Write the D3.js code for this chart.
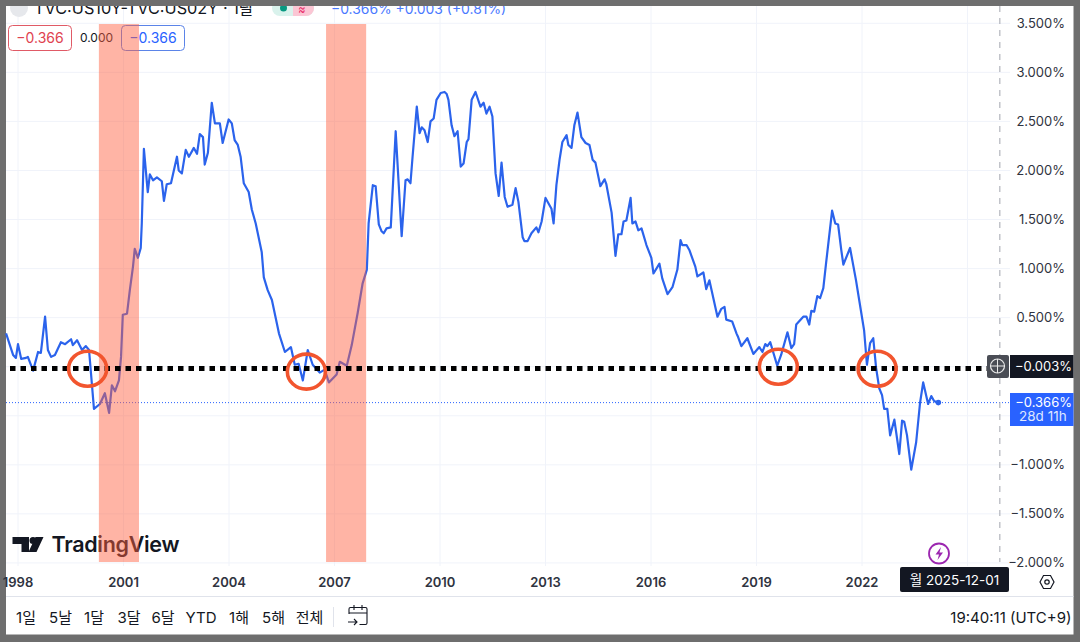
<!DOCTYPE html>
<html>
<head>
<meta charset="utf-8">
<script src="https://cdnjs.cloudflare.com/ajax/libs/d3/7.8.5/d3.min.js"></script>
<style>
  html, body { margin: 0; padding: 0; background: #6e6e6e; }
  svg { display: block; }
  text { font-family: Inter, "Noto Sans CJK KR", sans-serif; }
</style>
</head>
<body>
<div id="chart"></div>
<script>
// spread: fractional year, percent
const years = [1997.66,1997.86,1997.94,1998.00,1998.09,1998.23,1998.28,1998.43,1998.57,1998.65,1998.77,1998.85,1998.94,1999.05,1999.22,1999.34,1999.51,1999.56,1999.68,1999.82,1999.93,2000.02,2000.16,2000.33,2000.47,2000.59,2000.67,2000.76,2000.87,2000.93,2000.98,2001.10,2001.18,2001.27,2001.32,2001.41,2001.49,2001.52,2001.58,2001.69,2001.75,2001.84,2001.95,2002.09,2002.15,2002.23,2002.35,2002.52,2002.57,2002.66,2002.77,2002.86,2003.00,2003.09,2003.17,2003.26,2003.31,2003.40,2003.51,2003.60,2003.74,2003.82,2003.99,2004.08,2004.16,2004.25,2004.33,2004.42,2004.56,2004.65,2004.76,2004.93,2004.99,2005.10,2005.22,2005.42,2005.59,2005.76,2005.87,2005.98,2006.10,2006.24,2006.38,2006.58,2006.72,2006.84,2007.06,2007.15,2007.35,2007.49,2007.66,2007.80,2007.92,2007.97,2008.09,2008.17,2008.26,2008.34,2008.40,2008.48,2008.60,2008.74,2008.91,2009.02,2009.08,2009.16,2009.22,2009.34,2009.42,2009.48,2009.56,2009.65,2009.73,2009.82,2009.90,2010.02,2010.13,2010.19,2010.24,2010.33,2010.41,2010.50,2010.59,2010.67,2010.76,2010.81,2010.90,2011.01,2011.15,2011.24,2011.32,2011.41,2011.49,2011.58,2011.67,2011.75,2011.84,2011.92,2012.06,2012.15,2012.23,2012.35,2012.40,2012.49,2012.60,2012.74,2012.80,2012.89,2013.00,2013.17,2013.23,2013.31,2013.40,2013.48,2013.60,2013.65,2013.74,2013.82,2013.91,2014.02,2014.14,2014.25,2014.34,2014.42,2014.56,2014.68,2014.73,2014.88,2014.99,2015.07,2015.16,2015.22,2015.30,2015.42,2015.47,2015.56,2015.64,2015.73,2015.87,2016.01,2016.07,2016.24,2016.32,2016.47,2016.61,2016.75,2016.84,2016.89,2017.01,2017.09,2017.26,2017.32,2017.49,2017.57,2017.66,2017.89,2018.00,2018.09,2018.14,2018.31,2018.43,2018.48,2018.57,2018.74,2018.91,2019.08,2019.17,2019.25,2019.31,2019.39,2019.59,2019.70,2019.88,2019.99,2020.07,2020.13,2020.33,2020.42,2020.50,2020.56,2020.64,2020.73,2020.81,2020.90,2020.98,2021.15,2021.24,2021.32,2021.41,2021.47,2021.66,2021.83,2021.92,2022.06,2022.14,2022.23,2022.32,2022.40,2022.49,2022.57,2022.63,2022.72,2022.80,2022.92,2023.06,2023.14,2023.20,2023.28,2023.40,2023.54,2023.65,2023.74,2023.88,2023.97,2024.05,2024.17];
const spread = [0.34,0.12,0.09,0.23,0.08,0.09,0.10,-0.04,0.15,0.14,0.51,0.17,0.10,0.12,0.25,0.23,0.28,0.22,0.27,0.17,0.21,0.17,-0.43,-0.38,-0.27,-0.47,-0.19,-0.25,-0.14,0.10,0.53,0.54,0.78,1.02,1.20,1.11,1.21,1.46,2.22,1.78,1.96,1.90,1.93,1.89,1.69,1.86,1.87,2.14,2.00,1.97,2.21,2.14,2.23,2.17,2.37,2.34,2.06,2.18,2.69,2.48,2.48,2.28,2.52,2.48,2.31,2.26,2.14,1.87,1.78,1.60,1.46,1.17,0.91,0.78,0.68,0.34,0.15,0.20,0.02,0.03,-0.14,0.17,0.02,-0.06,-0.03,-0.16,-0.08,0.05,0.01,0.22,0.55,0.85,0.99,1.46,1.85,1.84,1.45,1.38,1.36,1.41,1.42,2.40,1.33,1.90,1.91,1.87,2.14,2.65,2.38,2.44,2.41,2.29,2.50,2.53,2.72,2.79,2.80,2.78,2.72,2.46,2.35,2.40,2.04,2.07,2.29,2.32,2.72,2.80,2.65,2.69,2.58,2.65,2.55,1.97,1.74,2.08,1.73,1.63,1.65,1.82,1.68,1.32,1.28,1.28,1.36,1.42,1.37,1.48,1.72,1.61,1.46,1.85,2.11,2.29,2.36,2.26,2.23,2.46,2.59,2.34,2.28,2.26,2.11,2.08,1.84,1.91,1.86,1.57,1.13,1.35,1.35,1.48,1.49,1.72,1.46,1.48,1.39,1.41,1.24,1.11,0.95,1.05,0.90,0.74,0.81,0.99,1.29,1.24,1.24,1.19,1.02,0.92,0.96,0.79,0.88,0.51,0.59,0.61,0.48,0.46,0.34,0.30,0.21,0.29,0.13,0.20,0.15,0.23,0.21,0.25,0.01,0.12,0.35,0.19,0.23,0.43,0.51,0.51,0.43,0.57,0.56,0.72,0.70,0.80,1.06,1.59,1.46,1.45,1.19,1.04,1.21,0.88,0.68,0.37,0.02,0.24,0.29,-0.01,-0.22,-0.29,-0.43,-0.43,-0.70,-0.54,-0.89,-0.55,-0.56,-0.70,-1.05,-0.77,-0.37,-0.16,-0.38,-0.30,-0.35,-0.37];

const yearTicks = [1998, 2001, 2004, 2007, 2010, 2013, 2016, 2019, 2022];
const yearGrid = [1998, 2001, 2004, 2007, 2010, 2013, 2016, 2019, 2022, 2025];
const priceTicks = [3.5, 3, 2.5, 2, 1.5, 1, 0.5, -1, -1.5, -2];
const priceGrid = [3.5, 3, 2.5, 2, 1.5, 1, 0.5, 0, -0.5, -1, -1.5, -2];
const recessions = [[2000.30, 2001.44], [2006.76, 2007.90]];
const inversions = [[1999.98, 0], [2006.20, -0.03], [2019.62, 0.02], [2022.43, 0]];
const zeroLevel = -0.003;
const lastValue = -0.366;
const crosshairYear = 2025.92;
const rangeButtons = ['1일', '5날', '1달', '3달', '6달', 'YTD', '1해', '5해', '전체'];

const width = 1080, height = 642;
const x = d3.scaleLinear().domain([1998, 2022]).range([18, 862]);
const y = d3.scaleLinear().domain([0, 3.5]).range([366.7, 23.3]);
const fmt = v => (v < 0 ? '\u2212' : '') + Math.abs(v).toFixed(3) + '%';

const svg = d3.select('#chart').append('svg').attr('width', width).attr('height', height);

// white panel
svg.append('rect').attr('x', 6).attr('y', 6).attr('width', 1067.5).attr('height', 628.5).attr('fill', '#fff');

// grid
svg.append('g').selectAll('line').data(yearGrid).enter().append('line')
  .attr('x1', d => x(d)).attr('x2', d => x(d)).attr('y1', 6).attr('y2', 566)
  .attr('stroke', '#f0f3fa');
svg.append('g').selectAll('line').data(priceGrid).enter().append('line')
  .attr('x1', 6).attr('x2', 1010).attr('y1', d => y(d)).attr('y2', d => y(d))
  .attr('stroke', '#f0f3fa');

// header
svg.append('circle').attr('cx', 19).attr('cy', 8).attr('r', 9).attr('fill', '#e6e8ec');
svg.append('text').attr('x', 34).attr('y', 14).attr('font-size', 16.3).attr('fill', '#131722')
  .text('TVC:US10Y-TVC:US02Y · 1달');
svg.append('rect').attr('x', 272).attr('y', 0).attr('width', 42).attr('height', 16).attr('rx', 8).attr('fill', '#d9f2ec');
svg.append('path').attr('d', 'M293 0h13a8 8 0 0 1 8 8a8 8 0 0 1 -8 8h-13z').attr('fill', '#fbc6d4');
svg.append('circle').attr('cx', 283.5).attr('cy', 8).attr('r', 3.5).attr('fill', '#089981');
svg.append('text').attr('x', 302).attr('y', 13).attr('font-size', 11).attr('text-anchor', 'middle').attr('fill', '#e91e63').text('≈');
svg.append('text').attr('x', 331).attr('y', 14).attr('font-size', 13.9).attr('fill', '#2962ff').attr('opacity', 0.85)
  .text('\u22120.366%  +0.003 (+0.81%)');

// buy / sell boxes
svg.append('rect').attr('x', 8.5).attr('y', 25.5).attr('width', 63).attr('height', 25).attr('rx', 4)
  .attr('fill', '#fff').attr('stroke', '#e05a66');
svg.append('text').attr('x', 40).attr('y', 43).attr('text-anchor', 'middle').attr('font-size', 14).attr('fill', '#e0424f').text('\u22120.366');
svg.append('text').attr('x', 96.5).attr('y', 42).attr('text-anchor', 'middle').attr('font-size', 12).attr('fill', '#131722').text('0.000');
svg.append('rect').attr('x', 121.5).attr('y', 25.5).attr('width', 63).attr('height', 25).attr('rx', 4)
  .attr('fill', '#fff').attr('stroke', '#5b84e8');
svg.append('text').attr('x', 153).attr('y', 43).attr('text-anchor', 'middle').attr('font-size', 14).attr('fill', '#2962ff').text('\u22120.366');

// last price dotted line and crosshair
svg.append('line').attr('x1', 6).attr('x2', 1010).attr('y1', y(lastValue)).attr('y2', y(lastValue))
  .attr('stroke', '#2962ff').attr('stroke-dasharray', '1 2');
svg.append('line').attr('x1', x(crosshairYear)).attr('x2', x(crosshairYear)).attr('y1', 6).attr('y2', 562)
  .attr('stroke', '#a3a6af').attr('stroke-dasharray', '6 6');

// spread line
const line = d3.line().x((d, i) => x(years[i])).y(d => y(d));
svg.append('path').datum(spread).attr('d', line).attr('fill', 'none')
  .attr('stroke', '#2b63ec').attr('stroke-width', 2.2).attr('stroke-linejoin', 'round');
svg.append('circle').attr('cx', x(years[years.length - 1])).attr('cy', y(lastValue)).attr('r', 2.8).attr('fill', '#2b63ec');

// tradingview logo
svg.append('path').attr('d', 'M12.5 537h16.5v15h-7.5v-8h-9z M33 537a3.5 3.5 0 1 1 0 7a3.5 3.5 0 1 1 0 -7z M28.5 552l7-15h8l-7 15z').attr('fill', '#131722');
svg.append('text').attr('x', 51.5).attr('y', 552).attr('font-size', 21.5).attr('font-weight', 600).attr('fill', '#131722').attr('letter-spacing', -0.3).text('TradingView');

// recession bands, drawn over the line and logo
svg.append('g').selectAll('rect').data(recessions).enter().append('rect')
  .attr('x', d => x(d[0])).attr('width', d => x(d[1]) - x(d[0]))
  .attr('y', 24).attr('height', 538)
  .attr('fill', '#ff6040').attr('fill-opacity', 0.47);

// zero level and circled crossings
svg.append('line').attr('x1', 10).attr('x2', 992).attr('y1', y(zeroLevel) + 1.5).attr('y2', y(zeroLevel) + 1.5)
  .attr('stroke', '#000').attr('stroke-width', 5.2).attr('stroke-dasharray', '5.5 5');
svg.append('g').selectAll('ellipse').data(inversions).enter().append('ellipse')
  .attr('cx', d => x(d[0])).attr('cy', d => y(d[1]) + 2)
  .attr('rx', 19).attr('ry', 17.5).attr('fill', 'none')
  .attr('stroke', '#f2552e').attr('stroke-width', 3.6);

// price axis
svg.append('g').selectAll('text').data(priceTicks).enter().append('text')
  .attr('x', 1065).attr('y', d => y(d) + 4.5).attr('text-anchor', 'end').attr('font-size', 13)
  .attr('fill', '#2f3340').text(fmt);

// crosshair price label
svg.append('rect').attr('x', 987).attr('y', 355).attr('width', 22).attr('height', 23).attr('rx', 2).attr('fill', '#4a4d55');
svg.append('circle').attr('cx', 997.5).attr('cy', 366).attr('r', 7).attr('fill', 'none').attr('stroke', '#e8e8e8').attr('stroke-width', 1.2);
svg.append('path').attr('d', 'M997.5 359v14M990.5 366h14').attr('stroke', '#e8e8e8');
svg.append('rect').attr('x', 1010).attr('y', 355).attr('width', 63.5).attr('height', 23).attr('fill', '#131722');
svg.append('text').attr('x', 1072).attr('y', 371).attr('text-anchor', 'end').attr('font-size', 13).attr('fill', '#fff').text(fmt(zeroLevel));

// last price label
svg.append('rect').attr('x', 1010).attr('y', 393).attr('width', 63.5).attr('height', 33).attr('fill', '#2962ff');
svg.append('text').attr('x', 1072).attr('y', 407).attr('text-anchor', 'end').attr('font-size', 13).attr('fill', '#fff').text(fmt(lastValue));
svg.append('text').attr('x', 1019).attr('y', 421).attr('font-size', 13.5).attr('fill', '#dfe7ff').text('28d 11h');

// time axis
svg.append('g').selectAll('text').data(yearTicks).enter().append('text')
  .attr('x', d => x(d)).attr('y', 587).attr('text-anchor', 'middle').attr('font-size', 13)
  .attr('font-weight', 600).attr('fill', '#2f3340').text(d => d);

svg.append('circle').attr('cx', 939).attr('cy', 553.5).attr('r', 10).attr('fill', '#fff').attr('stroke', '#9c27b0').attr('stroke-width', 1.8);
svg.append('path').attr('d', 'M941 547l-5.5 7.5h3.5l-1.5 5.5l5.5-7.5h-3.5z').attr('fill', '#9c27b0');
svg.append('rect').attr('x', 900).attr('y', 567).attr('width', 109).attr('height', 25).attr('rx', 2).attr('fill', '#131722');
svg.append('text').attr('x', 954.5).attr('y', 584.5).attr('text-anchor', 'middle').attr('font-size', 13.5).attr('fill', '#fff').text('월 2025-12-01');

// settings hexagon
svg.append('path').attr('d', 'M1040 582l3.5-6.5h7l3.5 6.5l-3.5 6.5h-7z').attr('fill', 'none').attr('stroke', '#131722').attr('stroke-width', 1.2);
svg.append('circle').attr('cx', 1047).attr('cy', 582).attr('r', 2.2).attr('fill', 'none').attr('stroke', '#131722').attr('stroke-width', 1.2);

// toolbar
svg.append('line').attr('x1', 6).attr('x2', 1073.5).attr('y1', 596.5).attr('y2', 596.5).attr('stroke', '#e0e3eb');
const btnCenters = [26, 60.5, 94, 129, 163, 201, 239, 273.5, 309.5];
svg.append('g').selectAll('text').data(rangeButtons).enter().append('text')
  .attr('x', (d, i) => btnCenters[i]).attr('y', 623).attr('text-anchor', 'middle').attr('font-size', 15)
  .attr('fill', '#131722').text(d => d);
svg.append('line').attr('x1', 333.5).attr('x2', 333.5).attr('y1', 607).attr('y2', 627).attr('stroke', '#e0e3eb');
svg.append('path').attr('d', 'M349 614v-5a1.5 1.5 0 0 1 1.5 -1.5h15a1.5 1.5 0 0 1 1.5 1.5v14a1.5 1.5 0 0 1 -1.5 1.5h-6M349 613h18M354 605v5M362 605v5M348 622h9M354 619l3 3l-3 3')
  .attr('fill', 'none').attr('stroke', '#131722').attr('stroke-width', 1.1);
svg.append('text').attr('x', 1071.5).attr('y', 623).attr('text-anchor', 'end').attr('font-size', 15).attr('fill', '#131722').text('19:40:11 (UTC+9)');

// gray frame over the clipped header
svg.append('rect').attr('x', 0).attr('y', 0).attr('width', width).attr('height', 6).attr('fill', '#6e6e6e');
</script>
</body>
</html>
